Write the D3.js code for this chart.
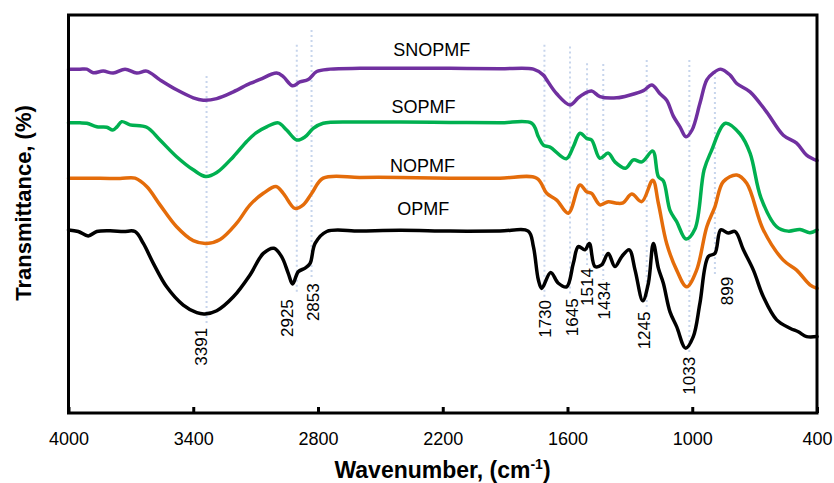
<!DOCTYPE html>
<html>
<head>
<meta charset="utf-8">
<script src="https://cdn.jsdelivr.net/npm/d3@7"></script>
<style>
  body { margin: 0; background: #fff; }
  svg { display: block; font-family: Arial, "Liberation Sans", sans-serif; }
</style>
</head>
<body>
<div id="ftir"></div>
<script>
// ---- data (wavenumber cm-1, transmittance a.u.) ----
const xTicks = [4000, 3400, 2800, 2200, 1600, 1000, 400];

const seriesNames = ["SNOPMF", "SOPMF", "NOPMF", "OPMF"];
const seriesColors = ["#7030a0", "#00b050", "#e46c0a", "#000000"];

const snopmf = [
  [4000, 86.4], [3945, 86.4], [3912, 86.4], [3881, 85.5], [3833, 85.9], [3785, 85.4],
  [3728, 86.4], [3672, 85.4], [3624, 85.9], [3560, 83.7], [3480, 81.2], [3400, 79.2],
  [3352, 78.6], [3287, 79.0], [3207, 80.7], [3127, 82.8], [3079, 83.8], [2999, 85.4],
  [2967, 84.5], [2922, 82.2], [2887, 83.2], [2847, 83.8], [2806, 85.8], [2742, 86.4],
  [2598, 86.6], [2406, 86.6], [2165, 86.6], [1925, 86.5], [1764, 86.4], [1716, 84.9],
  [1700, 83.7], [1652, 80.2], [1588, 77.4], [1550, 79.1], [1524, 80.1], [1484, 80.9],
  [1444, 79.5], [1363, 79.2], [1299, 79.9], [1235, 81.0], [1194, 82.4], [1155, 80.2],
  [1123, 78.6], [1091, 74.6], [1059, 71.9], [1030, 69.4], [1001, 71.1], [963, 77.8],
  [930, 83.7], [900, 85.4], [863, 86.4], [818, 84.9], [786, 82.8], [722, 80.7],
  [642, 75.6], [562, 69.8], [498, 67.8], [450, 64.8], [400, 63.4]
];

const sopmf = [
  [4000, 72.9], [3945, 72.9], [3912, 72.8], [3864, 71.9], [3816, 71.8], [3787, 71.1],
  [3767, 71.9], [3744, 73.2], [3704, 72.4], [3624, 71.8], [3560, 68.6], [3480, 64.4],
  [3400, 61.1], [3340, 59.4], [3287, 60.4], [3207, 64.4], [3143, 68.2], [3098, 70.4],
  [3047, 71.9], [2991, 72.9], [2951, 71.1], [2902, 68.6], [2862, 69.4], [2823, 71.5],
  [2775, 72.8], [2598, 73.1], [2406, 73.1], [2165, 73.0], [1925, 72.9], [1772, 72.8],
  [1740, 69.4], [1716, 67.3], [1684, 66.8], [1606, 63.9], [1572, 66.9], [1540, 70.3],
  [1508, 69.0], [1484, 68.6], [1444, 64.0], [1404, 65.3], [1372, 63.1], [1321, 61.5],
  [1283, 63.6], [1242, 63.1], [1190, 65.8], [1163, 59.4], [1139, 58.3], [1107, 50.9],
  [1075, 48.1], [1030, 43.7], [987, 46.2], [943, 61.1], [910, 65.6], [840, 72.8],
  [770, 70.1], [722, 65.3], [669, 54.0], [594, 46.8], [539, 45.7], [482, 46.1],
  [434, 45.3], [400, 46.0]
];

const nopmf = [
  [4000, 59.0], [3848, 59.0], [3752, 58.9], [3680, 59.0], [3624, 56.9], [3560, 52.3],
  [3480, 46.8], [3400, 43.3], [3335, 42.6], [3271, 43.6], [3191, 47.7], [3127, 52.3],
  [3063, 55.2], [3002, 56.9], [2967, 55.2], [2911, 51.4], [2871, 52.3], [2830, 55.2],
  [2775, 59.0], [2598, 59.2], [2406, 59.2], [2165, 59.0], [1925, 59.0], [1748, 59.0],
  [1700, 55.2], [1652, 53.5], [1596, 50.2], [1540, 57.3], [1508, 55.6], [1484, 55.2],
  [1444, 52.3], [1404, 53.1], [1363, 52.7], [1333, 52.8], [1291, 55.0], [1243, 53.1],
  [1190, 58.5], [1163, 52.7], [1123, 42.6], [1075, 35.9], [1027, 31.7], [979, 35.9],
  [930, 46.8], [891, 51.8], [851, 58.1], [786, 59.8], [738, 57.7], [658, 46.0],
  [562, 38.4], [498, 35.9], [434, 32.2], [400, 31.3]
];

const opmf = [
  [4000, 46.0], [3953, 45.6], [3905, 44.5], [3864, 45.6], [3800, 45.8], [3736, 45.6],
  [3680, 45.6], [3640, 42.6], [3592, 37.6], [3528, 31.7], [3448, 27.1], [3383, 25.2],
  [3344, 24.9], [3287, 25.7], [3207, 29.2], [3127, 34.7], [3063, 40.1], [3012, 41.4],
  [2975, 39.3], [2943, 35.1], [2922, 32.4], [2895, 35.5], [2862, 36.4], [2838, 37.6],
  [2814, 42.6], [2758, 45.6], [2598, 45.7], [2406, 45.9], [2165, 45.7], [1925, 45.7],
  [1789, 45.7], [1764, 41.8], [1740, 33.4], [1724, 31.3], [1681, 35.3], [1644, 32.6],
  [1604, 31.7], [1572, 37.6], [1548, 41.8], [1516, 41.0], [1495, 42.6], [1468, 36.8],
  [1436, 37.2], [1404, 40.1], [1372, 36.8], [1339, 39.3], [1303, 41.0], [1275, 35.9],
  [1238, 28.2], [1211, 32.6], [1187, 42.6], [1163, 36.4], [1139, 32.6], [1107, 25.4],
  [1075, 21.7], [1032, 16.3], [995, 19.2], [963, 27.6], [923, 39.3], [891, 40.1],
  [863, 46.0], [827, 45.2], [794, 45.6], [754, 41.0], [706, 35.9], [658, 29.2],
  [594, 23.4], [530, 21.3], [490, 20.4], [450, 19.2], [400, 19.2]
];

const seriesData = [snopmf, sopmf, nopmf, opmf];

// peak annotations: label text and where the dotted guide sits
const peakLabels = ["3391", "2925", "2853", "1730", "1645", "1514", "1434", "1245", "1033", "899"];
const peakWn = [3336, 2902, 2831, 1711, 1588, 1506, 1428, 1219, 1014, 891];

// ---- layout ----
const W = 834, H = 483;
const plot = { left: 68.5, right: 817, top: 15, bottom: 413 };

const guideTop = [84.7, 92.5, 96.2, 92.5, 92.1, 87.9, 87.7, 88.7, 88.7, 85.7];
const guideBottom = [22.1, 30.2, 33.4, 28.9, 29.4, 37.2, 33.4, 25.9, 14.6, 34.7];
const peakLabelWn = [3334, 2919, 2795, 1677, 1550, 1476, 1396, 1203, 987, 803];
const peakLabelTop = [21.4, 28.6, 32.6, 28.4, 28.8, 36.4, 33.0, 25.5, 14.1, 34.2];
const nameWn = [2438, 2446, 2454, 2419];
const nameY = [89.7, 75.3, 60.6, 49.7];

function drawFtir() {
  const svg = d3.select("#ftir")
    .append("svg")
    .attr("width", W)
    .attr("height", H)
    .style("background", "#fff");

  const x = d3.scaleLinear().domain([4000, 400]).range([plot.left, plot.right]);
  const y = d3.scaleLinear().domain([0, 100]).range([plot.bottom, plot.top]);

  // dotted guides behind everything
  svg.append("g")
    .selectAll("line")
    .data(peakWn)
    .join("line")
    .attr("x1", d => x(d))
    .attr("x2", d => x(d))
    .attr("y1", (d, i) => y(guideTop[i]))
    .attr("y2", (d, i) => y(guideBottom[i]))
    .attr("stroke", "#c7d5ec")
    .attr("stroke-width", 2)
    .attr("stroke-dasharray", "2,3");

  const line = d3.line()
    .x(d => x(d[0]))
    .y(d => y(d[1]))
    .curve(d3.curveCatmullRom.alpha(0.5));

  svg.append("g")
    .selectAll("path")
    .data(seriesData)
    .join("path")
    .attr("d", line)
    .attr("fill", "none")
    .attr("stroke", (d, i) => seriesColors[i])
    .attr("stroke-width", 3.5)
    .attr("stroke-linejoin", "round")
    .attr("stroke-linecap", "round");

  // series names
  svg.append("g")
    .selectAll("text")
    .data(seriesNames)
    .join("text")
    .attr("x", (d, i) => x(nameWn[i]))
    .attr("y", (d, i) => y(nameY[i]))
    .attr("font-size", 18)
    .attr("fill", "#000")
    .text(d => d);

  // peak labels, rotated
  svg.append("g")
    .selectAll("text")
    .data(peakLabels)
    .join("text")
    .attr("transform", (d, i) => `translate(${x(peakLabelWn[i])},${y(peakLabelTop[i])}) rotate(-90)`)
    .attr("text-anchor", "end")
    .attr("font-size", 17)
    .attr("fill", "#000")
    .text(d => d);

  // frame
  svg.append("rect")
    .attr("x", plot.left)
    .attr("y", plot.top)
    .attr("width", plot.right - plot.left)
    .attr("height", plot.bottom - plot.top)
    .attr("fill", "none")
    .attr("stroke", "#000")
    .attr("stroke-width", 3);

  // x axis, ticks pointing in
  const xAxis = svg.append("g")
    .attr("transform", `translate(0,${plot.bottom})`)
    .call(d3.axisBottom(x).tickValues(xTicks).tickSize(-6).tickPadding(0).tickFormat(d3.format("d")));
  xAxis.select(".domain").remove();
  xAxis.selectAll(".tick line").attr("stroke", "#000").attr("stroke-width", 3);
  xAxis.selectAll(".tick text")
    .attr("y", 32)
    .attr("dy", 0)
    .attr("font-size", 18)
    .attr("font-family", "Arial, 'Liberation Sans', sans-serif")
    .attr("fill", "#000");

  // axis titles
  const xt = svg.append("text")
    .attr("x", 442.5)
    .attr("y", 478)
    .attr("text-anchor", "middle")
    .attr("font-size", 23)
    .attr("font-weight", "bold")
    .attr("fill", "#000");
  xt.append("tspan").text("Wavenumber, (cm");
  xt.append("tspan").attr("font-size", 14).attr("dy", -9).text("-1");
  xt.append("tspan").attr("dy", 9).text(")");

  svg.append("text")
    .attr("transform", "translate(31,203) rotate(-90)")
    .attr("text-anchor", "middle")
    .attr("font-size", 22)
    .attr("font-weight", "bold")
    .attr("fill", "#000")
    .text("Transmittance, (%)");
}
drawFtir();
</script>
</body>
</html>
